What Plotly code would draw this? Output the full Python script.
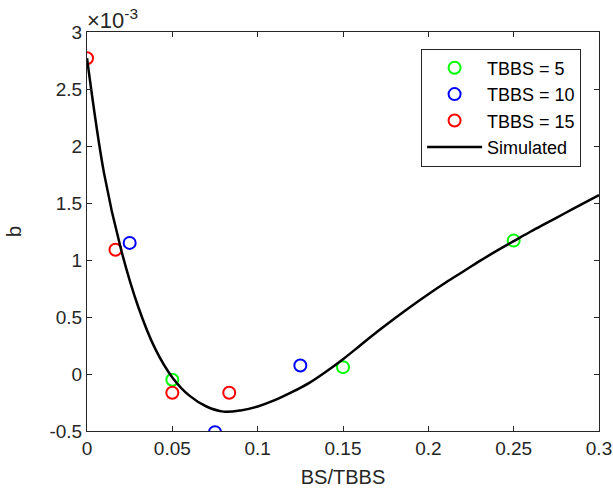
import plotly.graph_objects as go

# values of b are in units of 1e-3
x_tbbs5 = [0.05, 0.15, 0.25]
y_tbbs5 = [-0.05, 0.06, 1.17]
x_tbbs10 = [0.025, 0.075, 0.125]
y_tbbs10 = [1.15, -0.51, 0.075]
x_tbbs15 = [0.0, 1/60, 0.05, 1/12]
y_tbbs15 = [2.77, 1.09, -0.165, -0.165]

x_sim = [0, 0.01, 0.02, 0.03, 0.04, 0.05, 0.06, 0.07, 0.08, 0.09, 0.1, 0.11, 0.12, 0.13,
         0.14, 0.15, 0.16, 0.17, 0.18, 0.19, 0.2, 0.21, 0.22, 0.23, 0.24, 0.25, 0.26,
         0.27, 0.28, 0.29, 0.3]
y_sim = [2.77, 1.76, 1.09, 0.59, 0.22, -0.03, -0.19, -0.285, -0.33, -0.32, -0.285, -0.23,
         -0.16, -0.08, 0.02, 0.13, 0.25, 0.37, 0.485, 0.595, 0.70, 0.80, 0.895, 0.99, 1.08,
         1.165, 1.25, 1.33, 1.41, 1.49, 1.57]

x_ticks = [0, 0.05, 0.1, 0.15, 0.2, 0.25, 0.3]
x_ticklabels = ["0", "0.05", "0.1", "0.15", "0.2", "0.25", "0.3"]
y_ticks = [-0.5, 0, 0.5, 1, 1.5, 2, 2.5, 3]
y_ticklabels = ["-0.5", "0", "0.5", "1", "1.5", "2", "2.5", "3"]

FONT = "Liberation Sans, Arial, sans-serif"
TXT = "#262626"

fig = go.Figure()
mk = dict(symbol="circle-open", size=12, line=dict(width=2))
fig.add_trace(go.Scatter(x=x_tbbs5, y=y_tbbs5, mode="markers", name="TBBS = 5",
                         marker=dict(color="#00FF00", **mk)))
fig.add_trace(go.Scatter(x=x_tbbs10, y=y_tbbs10, mode="markers", name="TBBS = 10",
                         marker=dict(color="#0000FF", **mk)))
fig.add_trace(go.Scatter(x=x_tbbs15, y=y_tbbs15, mode="markers", name="TBBS = 15",
                         marker=dict(color="#FF0000", **mk)))
fig.add_trace(go.Scatter(x=x_sim, y=y_sim, mode="lines", name="Simulated",
                         line=dict(color="black", width=2.5, shape="spline", smoothing=1.0)))

axis_common = dict(showgrid=False, zeroline=False, showline=True, linecolor=TXT, linewidth=1,
                   mirror="ticks", ticks="inside", ticklen=5, tickcolor=TXT, tickwidth=1,
                   automargin=False,
                   tickfont=dict(family=FONT, size=19, color=TXT))
fig.update_xaxes(range=[0, 0.3], tickvals=x_ticks, ticktext=x_ticklabels,
                 title=dict(text="BS/TBBS", font=dict(family=FONT, size=20, color=TXT), standoff=12),
                 **axis_common)
fig.update_yaxes(range=[-0.5, 3], tickvals=y_ticks, ticktext=y_ticklabels,
                 title=dict(text="b", font=dict(family=FONT, size=20, color=TXT), standoff=22),
                 **axis_common)

fig.add_annotation(text="×10<sup>-3</sup>", xref="paper", yref="paper", x=0, y=1,
                   xanchor="left", yanchor="bottom", showarrow=False, xshift=-2, yshift=-3,
                   font=dict(family=FONT, size=22, color=TXT))

fig.update_layout(
    width=613, height=498,
    margin=dict(l=87, r=14, t=32, b=67),
    paper_bgcolor="white", plot_bgcolor="white",
    font=dict(family=FONT, color=TXT),
    legend=dict(x=0.965, y=0.9586, xanchor="right", yanchor="top",
                bgcolor="white", bordercolor=TXT, borderwidth=1,
                font=dict(family=FONT, size=18, color="black"),
                itemwidth=55, tracegroupgap=0),
    showlegend=True,
)

fig.write_html("out.html")
